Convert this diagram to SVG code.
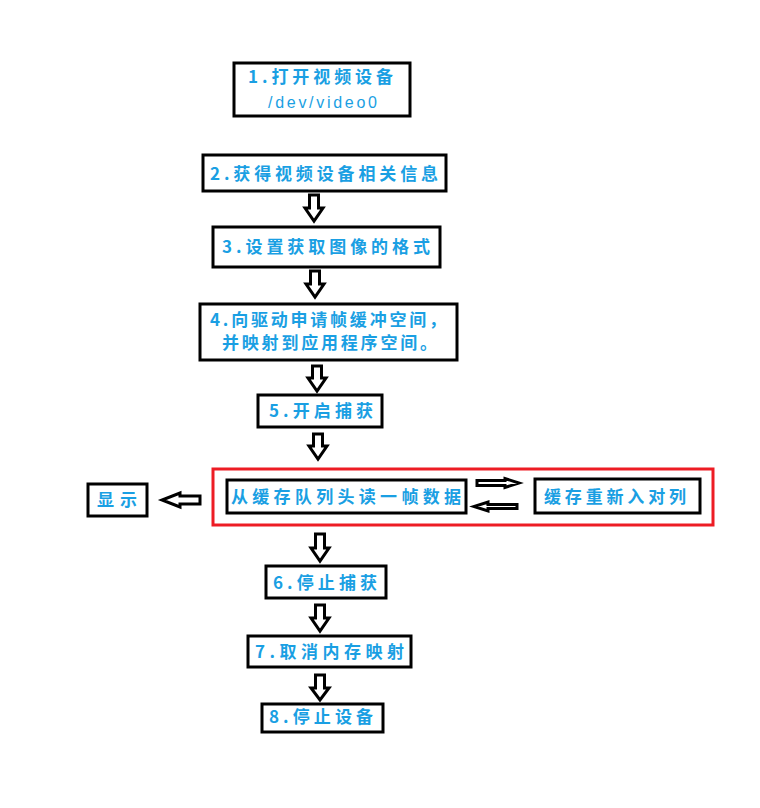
<svg xmlns="http://www.w3.org/2000/svg" width="760" height="808" viewBox="0 0 760 808">
<style>
.box{fill:#fff;stroke:#000;stroke-width:3}
.t{font-family:"Noto Sans CJK SC","Noto Sans",sans-serif;font-size:17px;font-weight:700;fill:#1a9fe3}
.m{font-family:"Liberation Sans","DejaVu Sans",sans-serif;font-size:16px;fill:#1a9fe3}
.arr{fill:#fff;stroke:#000;stroke-width:3;stroke-linejoin:miter}
.frame{fill:none;stroke:#ed1c24;stroke-width:3}
</style>
<rect width="760" height="808" fill="#fff"/>
<g id="connectors">
<path class="arr" d="M309.5 195 H318.5 V208 H323 L314 221 L305 208 H309.5 Z"/>
<path class="arr" d="M310.5 271 H319.5 V284 H324 L315 297 L306 284 H310.5 Z"/>
<path class="arr" d="M312.5 366 H321.5 V378 H326 L317 391 L308 378 H312.5 Z"/>
<path class="arr" d="M313.5 434 H322.5 V446 H327 L318 459 L309 446 H313.5 Z"/>
<path class="arr" d="M315.5 534 H324.5 V548 H329 L320 561 L311 548 H315.5 Z"/>
<path class="arr" d="M315.5 605 H324.5 V618 H329 L320 631 L311 618 H315.5 Z"/>
<path class="arr" d="M315.5 675 H324.5 V688 H329 L320 700 L311 688 H315.5 Z"/>
<path class="arr" d="M200 496 H180 V493 L162 500 L180 507 V504 H200 Z"/>
<path class="arr" d="M477 480.5 H505 V478.5 L519 483 L505 487.5 V485.5 H477 Z"/>
<path class="arr" d="M517 504.5 H488 V502 L474 506.5 L488 511 V508.5 H517 Z"/>
</g>
<g id="loop">
<rect class="frame" x="213" y="469" width="500" height="56"/>
</g>
<g id="n1">
<rect class="box" x="234" y="63" width="176" height="53"/>
<text class="t" x="248" y="83" textLength="145" lengthAdjust="spacing">1.打开视频设备</text>
<text class="m" x="268" y="108" textLength="109" lengthAdjust="spacing">/dev/video0</text>
</g>
<g id="n2">
<rect class="box" x="203" y="155" width="243" height="36"/>
<text class="t" x="210" y="180" textLength="228" lengthAdjust="spacing">2.获得视频设备相关信息</text>
</g>
<g id="n3">
<rect class="box" x="213" y="227" width="227" height="40"/>
<text class="t" x="222" y="253" textLength="208" lengthAdjust="spacing">3.设置获取图像的格式</text>
</g>
<g id="n4">
<rect class="box" x="200" y="304" width="257" height="56"/>
<text class="t" x="210" y="326" textLength="236" lengthAdjust="spacing">4.向驱动申请帧缓冲空间，</text>
<text class="t" x="222" y="349" textLength="215" lengthAdjust="spacing">并映射到应用程序空间。</text>
</g>
<g id="n5">
<rect class="box" x="258" y="395" width="124" height="32"/>
<text class="t" x="269" y="417" textLength="104" lengthAdjust="spacing">5.开启捕获</text>
</g>
<g id="read">
<rect class="box" x="227" y="480" width="239" height="33"/>
<text class="t" x="231" y="503" textLength="230" lengthAdjust="spacing">从缓存队列头读一帧数据</text>
</g>
<g id="requeue">
<rect class="box" x="535" y="479" width="165" height="34"/>
<text class="t" x="544" y="503" textLength="142" lengthAdjust="spacing">缓存重新入对列</text>
</g>
<g id="display">
<rect class="box" x="88" y="484" width="59" height="32"/>
<text class="t" x="97" y="506" textLength="40" lengthAdjust="spacing">显示</text>
</g>
<g id="n6">
<rect class="box" x="266" y="566" width="120" height="32"/>
<text class="t" x="273" y="589" textLength="104" lengthAdjust="spacing">6.停止捕获</text>
</g>
<g id="n7">
<rect class="box" x="248" y="636" width="163" height="31"/>
<text class="t" x="255" y="658" textLength="149" lengthAdjust="spacing">7.取消内存映射</text>
</g>
<g id="n8">
<rect class="box" x="262" y="704" width="121" height="28"/>
<text class="t" x="269" y="723" textLength="104" lengthAdjust="spacing">8.停止设备</text>
</g>
</svg>
